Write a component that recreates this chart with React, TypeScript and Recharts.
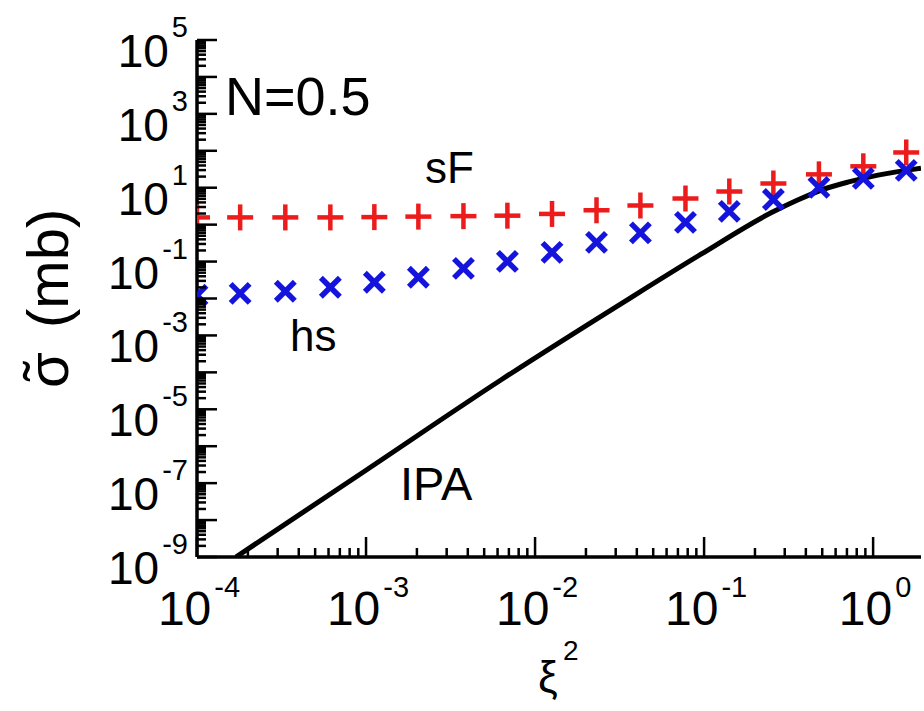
import { ComposedChart, Line, Scatter, XAxis, YAxis } from "recharts";

// xi^2 positions shared by the two symbol series
const xiSq = [1e-4, 1.8e-4, 3.33e-4, 6.15e-4, 1.12e-3, 2.04e-3, 3.77e-3, 6.86e-3, 1.26e-2, 2.31e-2, 4.2e-2, 7.76e-2, 0.141, 0.257, 0.478, 0.875, 1.57];
const sfVals = [1.57, 1.57, 1.57, 1.57, 1.6, 1.65, 1.7, 1.75, 1.95, 2.45, 3.3, 5.1, 7.9, 13, 23, 38, 90];
const hsVals = [0.0122, 0.0138, 0.0157, 0.0201, 0.0275, 0.0375, 0.0656, 0.101, 0.178, 0.33, 0.6, 1.15, 2.29, 4.8, 10.2, 17.9, 29.5];

// IPA curve
const ipaX = [1.7e-4, 1e-3, 6.31e-3, 0.0342, 0.0959, 0.249, 0.355, 0.49, 0.708, 0.973, 1.68, 1.92];
const ipaY = [1e-9, 2.24e-7, 6.31e-5, 8.51e-3, 0.158, 2.09, 4.57, 8.51, 14.1, 20, 30.9, 33.9];

// axis decades
const xDecades = [-4, -3, -2, -1, 0];
const yDecades = [-9, -8, -7, -6, -5, -4, -3, -2, -1, 0, 1, 2, 3, 4];
const yLabelExps = [5, 3, 1, -1, -3, -5, -7, -9];
const mantissas = [1, 2, 3, 4, 5, 6, 7, 8, 9];

const X_DOMAIN = [1e-4, 1.92];
const Y_DOMAIN = [1e-9, 1e5];

const W = 924;
const H = 711;
const TOP = 40;
const BOTTOM = 557;
const LEFT = 197;
const RIGHT = 921;

const RED = "#ec1c1c";
const BLUE = "#1414dc";
const FONT = "'Liberation Sans', Arial, Helvetica, sans-serif";

const sfData = xiSq.map((x, i) => ({ x, y: sfVals[i] }));
const hsData = xiSq.map((x, i) => ({ x, y: hsVals[i] }));
const ipaData = ipaX.map((x, i) => ({ x, y: ipaY[i] }));

const xTicks = xDecades.flatMap((d) => mantissas.map((m) => m * Math.pow(10, d))).filter((v) => v <= X_DOMAIN[1]);
const yTicks = [...yDecades.flatMap((d) => mantissas.map((m) => m * Math.pow(10, d))), 1e5];

const isMajor = (v: number) => {
  const l = Math.log10(v);
  return Math.abs(l - Math.round(l)) < 1e-6;
};
const expOf = (v: number) => Math.round(Math.log10(v));

const BottomTick = (props: any) => {
  const { x, payload } = props;
  const major = isMajor(payload.value);
  const len = major ? 20 : 9;
  return (
    <g>
      <line x1={x} x2={x} y1={BOTTOM} y2={BOTTOM - len} stroke="#000" strokeWidth={2.5} />
      {major && (
        <text x={x + 2} y={625} textAnchor="middle" fontSize={48} fontFamily={FONT} fill="#000">
          <tspan>10</tspan>
          <tspan dx={3} dy={-28} fontSize={29}>{expOf(payload.value)}</tspan>
        </text>
      )}
    </g>
  );
};

const TopTick = (props: any) => {
  const { x, payload } = props;
  const len = isMajor(payload.value) ? 20 : 9;
  return <line x1={x} x2={x} y1={TOP} y2={TOP + len} stroke="#000" strokeWidth={2.5} />;
};

const LeftTick = (props: any) => {
  const { y, payload } = props;
  const major = isMajor(payload.value);
  const len = major ? 20 : 9;
  const e = expOf(payload.value);
  return (
    <g>
      <line x1={LEFT} x2={LEFT + len} y1={y} y2={y} stroke="#000" strokeWidth={2.5} />
      {major && yLabelExps.includes(e) && (
        <text x={188} y={y + 27} textAnchor="end" fontSize={46} fontFamily={FONT} fill="#000">
          <tspan>10</tspan>
          <tspan dx={3} dy={-30} fontSize={29}>{e}</tspan>
        </text>
      )}
    </g>
  );
};

const RightTick = (props: any) => {
  const { y, payload } = props;
  const len = isMajor(payload.value) ? 20 : 9;
  return <line x1={RIGHT} x2={RIGHT - len} y1={y} y2={y} stroke="#000" strokeWidth={2.5} />;
};

const Plus = (props: any) => {
  const cx = props.cx ?? props.x + props.width / 2;
  const cy = props.cy ?? props.y + props.height / 2;
  return (
    <g>
      <line x1={cx - 13} x2={cx + 13} y1={cy} y2={cy} stroke={RED} strokeWidth={4.5} />
      <line x1={cx} x2={cx} y1={cy - 13} y2={cy + 13} stroke={RED} strokeWidth={4.5} />
    </g>
  );
};

const Cross = (props: any) => {
  const cx = props.cx ?? props.x + props.width / 2;
  const cy = props.cy ?? props.y + props.height / 2;
  return (
    <g>
      <line x1={cx - 9.5} x2={cx + 9.5} y1={cy - 9.5} y2={cy + 9.5} stroke={BLUE} strokeWidth={5.5} />
      <line x1={cx - 9.5} x2={cx + 9.5} y1={cy + 9.5} y2={cy - 9.5} stroke={BLUE} strokeWidth={5.5} />
    </g>
  );
};

export default function App() {
  const axisLine = { stroke: "#000", strokeWidth: 3.5 };
  return (
    <div style={{ position: "absolute", left: 0, top: 0, width: W, height: H, background: "#fff" }}>
      <ComposedChart width={W} height={H} margin={{ top: TOP, right: W - RIGHT, bottom: 54, left: 17 }}>
        <XAxis
          xAxisId="b"
          dataKey="x"
          type="number"
          scale="log"
          domain={X_DOMAIN}
          allowDataOverflow
          ticks={xTicks}
          interval={0}
          tick={<BottomTick />}
          tickLine={false}
          axisLine={axisLine}
          height={100}
        />
        <XAxis
          xAxisId="t"
          orientation="top"
          dataKey="x"
          type="number"
          scale="log"
          domain={X_DOMAIN}
          allowDataOverflow
          ticks={xTicks}
          interval={0}
          tick={<TopTick />}
          tickLine={false}
          axisLine={axisLine}
          height={0}
        />
        <YAxis
          yAxisId="l"
          type="number"
          scale="log"
          domain={Y_DOMAIN}
          allowDataOverflow
          ticks={yTicks}
          interval={0}
          tick={<LeftTick />}
          tickLine={false}
          axisLine={axisLine}
          width={180}
        />
        <YAxis
          yAxisId="r"
          orientation="right"
          type="number"
          scale="log"
          domain={Y_DOMAIN}
          allowDataOverflow
          ticks={yTicks}
          interval={0}
          tick={<RightTick />}
          tickLine={false}
          axisLine={axisLine}
          width={0}
        />
        <Line
          xAxisId="b"
          yAxisId="l"
          data={ipaData}
          dataKey="y"
          type="monotone"
          stroke="#000"
          strokeWidth={5}
          dot={false}
          isAnimationActive={false}
        />
        <Scatter xAxisId="t" yAxisId="r" data={sfData} dataKey="y" shape={<Plus />} isAnimationActive={false} />
        <Scatter xAxisId="b" yAxisId="l" data={hsData} dataKey="y" shape={<Cross />} isAnimationActive={false} />
      </ComposedChart>
      <svg width={W} height={H} style={{ position: "absolute", left: 0, top: 0, pointerEvents: "none" }}>
        <text x={225} y={115} fontSize={54} fontFamily={FONT} fill="#000">N=0.5</text>
        <text x={425} y={183} fontSize={44} fontFamily={FONT} fill="#000">sF</text>
        <text x={290} y={351} fontSize={44} fontFamily={FONT} fill="#000">hs</text>
        <text x={400} y={500} fontSize={47} fontFamily={FONT} fill="#000">IPA</text>
        <g transform="translate(68 388) rotate(-90)" fontFamily={FONT} fill="#000">
          <text x={0} y={0} fontSize={58}>σ</text>
          <text x={17} y={-4} fontSize={58} textAnchor="middle">˜</text>
          <text x={60} y={0} fontSize={58}>(mb)</text>
        </g>
        <text x={538} y={692} fontSize={44} fontFamily={FONT} fill="#000">ξ</text>
        <text x={563} y={660} fontSize={28} fontFamily={FONT} fill="#000">2</text>
      </svg>
    </div>
  );
}
